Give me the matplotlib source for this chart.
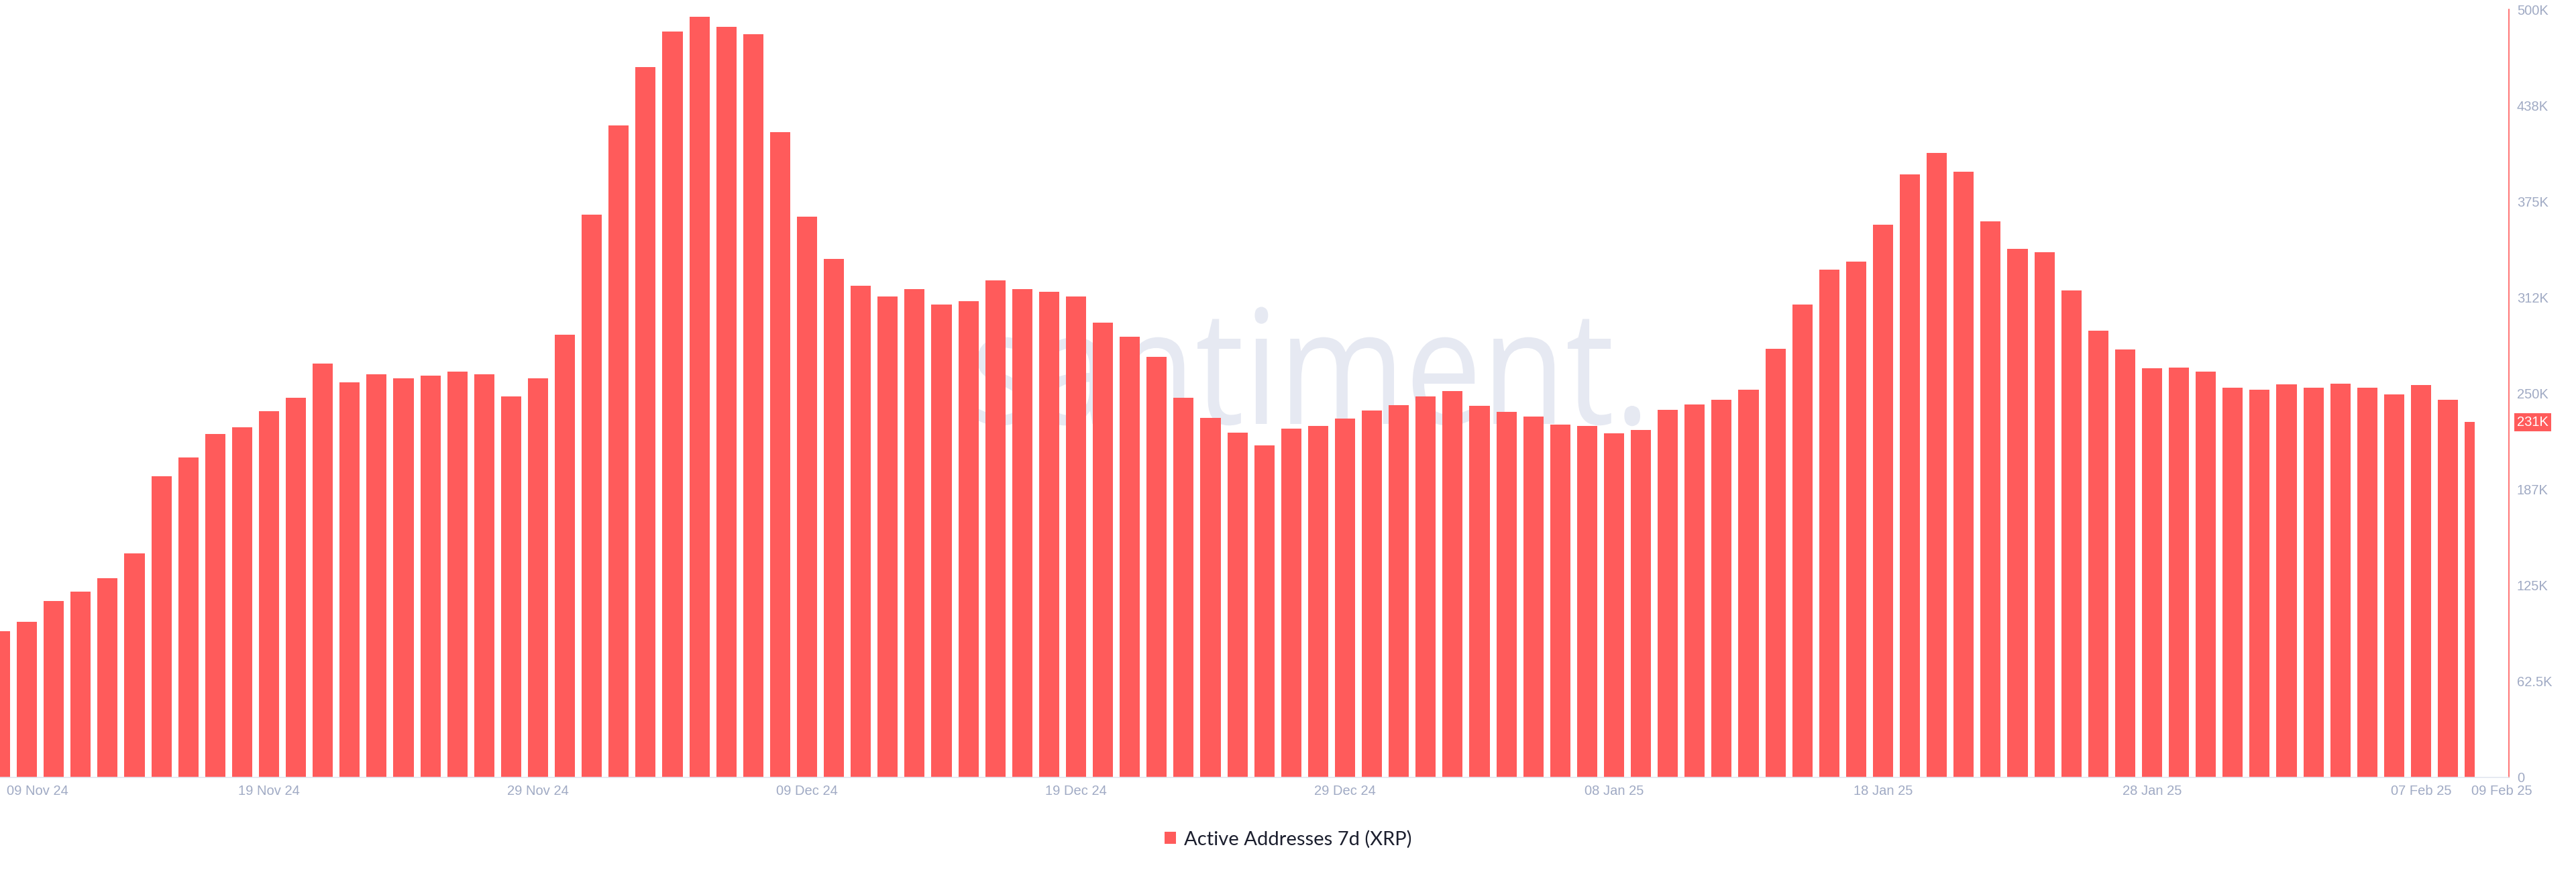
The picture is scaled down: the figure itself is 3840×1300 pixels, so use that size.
import numpy as np
import matplotlib
matplotlib.use("Agg")
import matplotlib.pyplot as plt
from matplotlib.patches import Rectangle, Patch, PathPatch
from matplotlib.textpath import TextPath
from matplotlib.font_manager import FontProperties
from matplotlib.transforms import Affine2D, ScaledTranslation

# Active addresses 7d (XRP), daily from 09 Nov 24 to 09 Feb 25, in thousands
active_k = [
    95, 101.5, 115, 121, 129.5, 146, 196, 208.5, 223.5, 228,
    238.5, 247, 269.5, 257, 262.5, 260, 261.5, 264, 262.5, 248,
    260, 288, 366.5, 424.5, 462.5, 485.5, 495, 488.5, 484, 420,
    365, 337.5, 320, 313, 318, 308, 310, 323.5, 318, 316,
    313, 296, 287, 274, 247, 234, 224.5, 216, 227, 229,
    233.5, 239, 242.5, 248, 251.5, 242, 238, 235, 229.5, 229,
    224, 226, 239.5, 243, 246, 252.5, 279, 308, 330.5, 336,
    360, 392.5, 406.5, 394.5, 362, 344, 342, 317, 291, 278.5,
    266.5, 267, 264, 253.5, 252.5, 256, 253.5, 256.5, 253.5, 249.5,
    255.5, 246, 231.4,
]

x_tick_pos = [0, 10, 20, 30, 40, 50, 60, 70, 80, 90, 92]
x_tick_labels = ["09 Nov 24", "19 Nov 24", "29 Nov 24", "09 Dec 24", "19 Dec 24",
                 "29 Dec 24", "08 Jan 25", "18 Jan 25", "28 Jan 25", "07 Feb 25",
                 "09 Feb 25"]
y_tick_pos = [0, 62.5, 125, 187.5, 250, 312.5, 375, 437.5, 500]
y_tick_labels = ["0", "62.5K", "125K", "187K", "250K", "312K", "375K", "438K", "500K"]

series_name = "Active Addresses 7d (XRP)"

red = "#ff5b5b"
tick_col = "#a0aac4"
W, H = 3840, 1300
DPI = 100

fig = plt.figure(figsize=(W / DPI, H / DPI), dpi=DPI)
fig.patch.set_facecolor("white")

# plot area in pixels: x 0..3740, y 14..1159 (from top)
ax = fig.add_axes([0, 1 - 1159 / H, 3740 / W, (1159 - 14) / H])
ax.set_facecolor("none")

n = len(active_k)
x = np.arange(n)
step_px = 40.1
ax.set_xlim(0, 3740 / step_px)
ax.set_ylim(0, 500)

# watermark behind the bars
wm = TextPath((0, 0), "santiment.", size=1, prop=FontProperties(family="Open Sans"))
ext = wm.get_extents()
sy = 127 / 0.535
sx = 988 / ext.width
wm_tr = Affine2D().translate(-ext.x0, 0).scale(sx, sy).translate(1457, H - 632)
ax.add_patch(PathPatch(wm, transform=wm_tr, facecolor="#e6e9f2", edgecolor="none",
                       zorder=0, clip_on=False))

bars = ax.bar(x, active_k, width=0.75, color=red, zorder=2)
# bars are cut at the last date, the axis itself goes a bit further
clip = Rectangle((0, 0), n - 1, 500, transform=ax.transData)
for b in bars:
    b.set_clip_path(clip)

for side in ["left", "top"]:
    ax.spines[side].set_visible(False)
ax.spines["bottom"].set_color("#e2e6f0")
ax.spines["bottom"].set_linewidth(1.2)
ax.spines["right"].set_color(red)
ax.spines["right"].set_linewidth(1.2)

ax.yaxis.tick_right()
ax.set_yticks(y_tick_pos)
ax.set_yticklabels(y_tick_labels)
ax.set_xticks(x_tick_pos)
ax.set_xticklabels(x_tick_labels)
ax.tick_params(axis="y", length=0, pad=8.6, labelsize=14.5, labelcolor=tick_col)
ax.tick_params(axis="x", length=0, pad=8, labelsize=14.5, labelcolor=tick_col)
for lab in ax.get_xticklabels() + ax.get_yticklabels():
    lab.set_fontfamily("Liberation Sans")

xl = ax.get_xticklabels()
xl[0].set_ha("left")
xl[0].set_transform(xl[0].get_transform() + ScaledTranslation(10 / DPI, 0, fig.dpi_scale_trans))
xl[-1].set_ha("left")
xl[-1].set_transform(xl[-1].get_transform() + ScaledTranslation(-5 / DPI, 0, fig.dpi_scale_trans))

# latest value tag on the axis
last = active_k[-1]
ax.annotate(f"{last:.0f}K", xy=(1, last), xycoords=("axes fraction", "data"),
            xytext=(12 * 72 / DPI, 0), textcoords="offset points",
            ha="left", va="center", fontsize=14.5, color="white",
            fontfamily="Liberation Sans", annotation_clip=False,
            bbox=dict(boxstyle="square,pad=0.2", facecolor=red, edgecolor="none"))

handle = Patch(facecolor=red, edgecolor="none")
fig.legend([handle], [series_name], loc="center", bbox_to_anchor=(0.5, 1 - 1251 / H),
           frameon=False, prop=FontProperties(family="Lato", size=21),
           handlelength=0.6, handleheight=0.6, handletextpad=0.4, labelcolor="#1c1f2e")

fig.savefig("out.png", dpi=DPI, facecolor="white")
